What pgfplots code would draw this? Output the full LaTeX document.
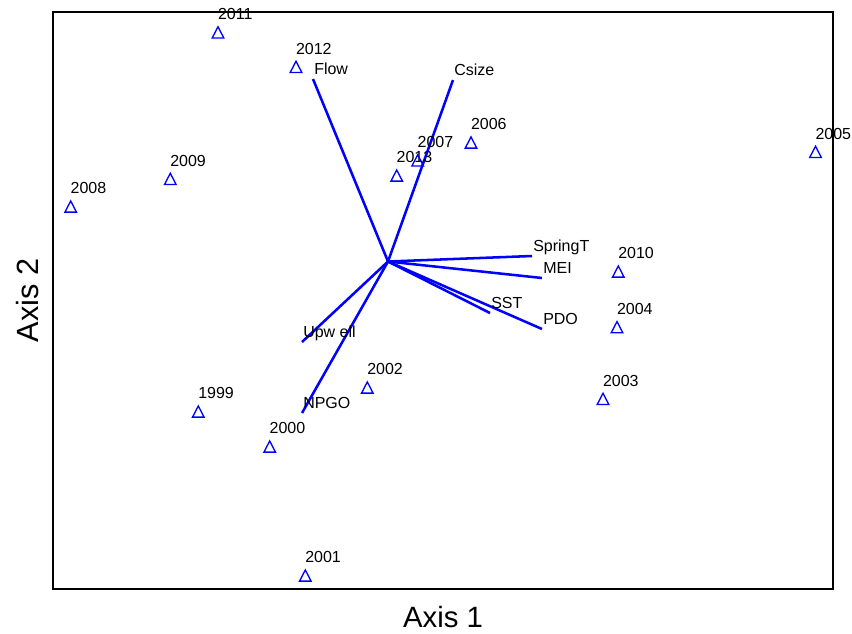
\documentclass[border=0pt]{standalone}
\usepackage{pgfplots}
\pgfplotsset{compat=1.18}
\usepackage{pgfplotstable}
\usepackage{fontspec}
\setmainfont{Liberation Sans}

\pgfplotstableread{
x y label
218 34.2 2011
296 68.7 2012
396.7 177.4 2013
417.7 162.2 2007
471 144.4 2006
815.5 153.7 2005
70.7 208.4 2008
170.3 180.7 2009
618.3 273.4 2010
617 329 2004
603 400.7 2003
367.3 389.4 2002
198.3 413.4 1999
269.7 448.4 2000
305.3 577.4 2001
}\years

\pgfplotstableread{
x y label
313 79 Flow
453 80 Csize
532 256 SpringT
542 278 MEI
490 313 SST
542 329 PDO
302 342 {Upw ell}
302 413 NPGO
}\vecs

\definecolor{pblue}{RGB}{0,0,255}

\begin{document}
\begin{tikzpicture}
\begin{axis}[
  scale only axis, width=585pt, height=432.75pt,
  xmin=53, xmax=833, ymin=12, ymax=589, y dir=reverse,
  xtick=\empty, ytick=\empty,
  axis line style={line width=1.8pt},
  clip=false,
  xlabel={Axis 1}, ylabel={Axis 2},
  xlabel style={at={(axis description cs:0.5,-0.0659)}, anchor=base, inner sep=0pt, font=\fontsize{22}{26}\selectfont},
  ylabel style={at={(axis description cs:-0.018,0.5)}, anchor=base, inner sep=0pt, font=\fontsize{23}{27}\selectfont},
]
\path (axis cs:0,0) rectangle (axis cs:852,633);

\addplot[pblue, line width=1.9pt] coordinates {(388,261.5) (313,79)};
\addplot[pblue, line width=1.9pt] coordinates {(388,261.5) (453,80)};
\addplot[pblue, line width=1.9pt] coordinates {(388,261.5) (532,256)};
\addplot[pblue, line width=1.9pt] coordinates {(388,261.5) (542,278)};
\addplot[pblue, line width=1.9pt] coordinates {(388,261.5) (490,313)};
\addplot[pblue, line width=1.9pt] coordinates {(388,261.5) (542,329)};
\addplot[pblue, line width=1.9pt] coordinates {(388,261.5) (302,342)};
\addplot[pblue, line width=1.9pt] coordinates {(388,261.5) (302,413)};

\addplot[draw=none, mark=none, nodes near coords, point meta=explicit symbolic,
  every node near coord/.style={anchor=base west, inner sep=0pt, xshift=0.75pt, yshift=3.4pt, font=\fontsize{12}{14}\selectfont, text=black}]
  table[x=x, y=y, meta=label] {\vecs};

\addplot[only marks, mark=triangle, mark size=5pt, mark options={draw=pblue, fill=none, line width=1pt, yscale=1.12},
  nodes near coords, point meta=explicit symbolic,
  every node near coord/.style={anchor=base west, inner sep=0pt, xshift=-0.5pt, yshift=11pt, font=\fontsize{12}{14}\selectfont, text=black}]
  table[x=x, y=y, meta=label] {\years};
\end{axis}
\end{tikzpicture}
\end{document}
